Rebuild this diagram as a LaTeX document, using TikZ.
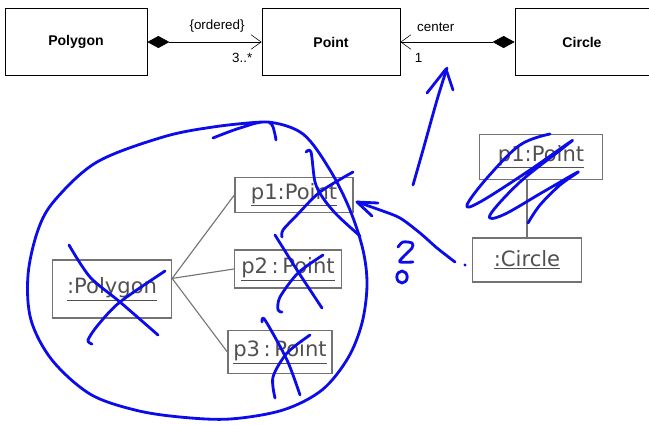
\documentclass[tikz,border=0pt]{standalone}
\usepackage{fontspec}
\setmainfont{Liberation Sans}
\newfontfamily\handfont{DejaVu Sans}
\usetikzlibrary{arrows.meta}
\definecolor{pencil}{gray}{0.45}
\definecolor{inkblue}{RGB}{12,12,235}

\begin{document}
\begin{tikzpicture}[x=0.025cm,y=-0.025cm,
        cls/.style={draw, line width=0.5pt, minimum height=1.675cm,
                        font=\bfseries\fontsize{10}{12}\selectfont},
        lbl/.style={font=\fontsize{9.5}{11}\selectfont, inner sep=2pt},
        obj/.style={draw=pencil, line width=0.9pt, text=pencil!70!black,
                        font=\handfont\fontsize{15}{16}\selectfont, inner sep=2pt},
        tie/.style={draw=pencil, line width=0.8pt},
        ink/.style={draw=inkblue, line width=2pt, line cap=round, line join=round},
        own/.style={{Diamond[length=5.5mm,width=3mm]}-{Straight Barb[length=2.5mm,width=3.6mm]}},
        owned/.style={{Straight Barb[length=2.5mm,width=3.6mm]}-{Diamond[length=5.5mm,width=3mm]}}]
    \useasboundingbox (0,0) rectangle (649,424);

    % class diagram
    \node[cls, minimum width=3.55cm] (poly) at (76,42) {Polygon};
    \node[cls, minimum width=3.45cm] (pt) at (331,42) {Point};
    \node[cls, minimum width=3.35cm] (circ) at (582,42) {Circle};
    \draw[own] (poly) -- (pt)
        node[lbl, pos=0.61, above=5pt] {\{ordered\}}
        node[lbl, pos=0.83, below=6pt] {3..*};
    \draw[owned] (pt) -- (circ)
        node[lbl, pos=0.31, above=5pt] {center}
        node[lbl, pos=0.16, below=6pt] {1};

    % objects, sketched
    \node[obj, minimum width=2.975cm, minimum height=1.45cm] (opoly) at (112,289) {\underline{:Polygon}};
    \node[obj, minimum width=2.95cm, minimum height=0.875cm] (op1) at (294,195) {\underline{p1:Point}};
    \node[obj, minimum width=2.675cm, minimum height=0.95cm] (op2) at (288,269) {\underline{p2\,:\,Point}};
    \node[obj, minimum width=2.6cm, minimum height=1.075cm] (op3) at (280,352) {\underline{p3\,:\,Point}};
    \node[obj, minimum width=3.075cm, minimum height=1.125cm] (op1b) at (541,157) {\underline{p1:Point}};
    \node[obj, minimum width=2.725cm, minimum height=1.1cm] (ocirc) at (527,260) {\underline{:Circle}};
    \foreach \o in {op1,op2,op3}
        \draw[tie] (opoly.10) -- (\o.west);
    \draw[tie] (ocirc.north) -- (ocirc.north |- op1b.south);

    % blue pen: loop round the polygon
    \draw[ink] plot[smooth, tension=0.55] coordinates {(213,138) (240,128) (268,122)
        (303,134) (330,170) (350,210) (363,250) (367,285) (362,323) (348,358)
        (322,390) (283,410) (230,419) (180,417) (135,410) (90,394) (52,360)
        (31,320) (28,275) (38,230) (55,200) (97,162) (163,137) (213,127)
        (262,122) (272,125) (276,140)};

    % crossed out
    \draw[ink] plot[smooth] coordinates {(69,245) (90,277) (120,302) (158,335)};
    \draw[ink] plot[smooth] coordinates {(165,271) (120,302) (98,325) (88,340) (92,344)};
    \draw[ink] plot[smooth] coordinates {(306,152) (311,152) (315,182) (323,198) (337,215) (360,236)};
    \draw[ink] plot[smooth] coordinates {(353,172) (320,192) (297,215) (283,230) (282,237)};
    \draw[ink] plot[smooth] coordinates {(275,235) (297,270) (322,308)};
    \draw[ink] plot[smooth] coordinates {(323,255) (298,273) (280,297) (278,310) (282,312)};
    \draw[ink] plot[smooth] coordinates {(262,322) (265,320) (287,360) (300,395)};
    \draw[ink] plot[smooth] coordinates {(310,335) (287,353) (273,377) (275,398)};

    % scribble over the other point
    \draw[ink] plot[smooth, tension=0.6] coordinates {(550,134) (520,145) (487,178)
        (467,205) (480,202) (527,172) (570,142) (563,148) (520,182) (490,215)
        (503,215) (543,192) (578,172) (560,185) (540,205) (528,223)};

    % arrows and question mark
    \draw[ink] plot[smooth] coordinates {(455,262) (437,248) (420,233) (400,218) (380,210) (357,202)};
    \draw[ink] (378,203) -- (357,202) -- (372,216);
    \fill[inkblue] (465,265) circle (0.04cm);
    \draw[ink] plot[smooth] coordinates {(413,185) (423,150) (437,100) (447,68)};
    \draw[ink] (427,93) -- (446,69) -- (453,90);
    \draw[ink] plot[smooth] coordinates {(398,247) (403,242) (412,243) (412,248)
        (403,257) (400,262) (413,262)};
    \draw[ink] (402,277) ellipse (0.13cm and 0.15cm);
\end{tikzpicture}
\end{document}
